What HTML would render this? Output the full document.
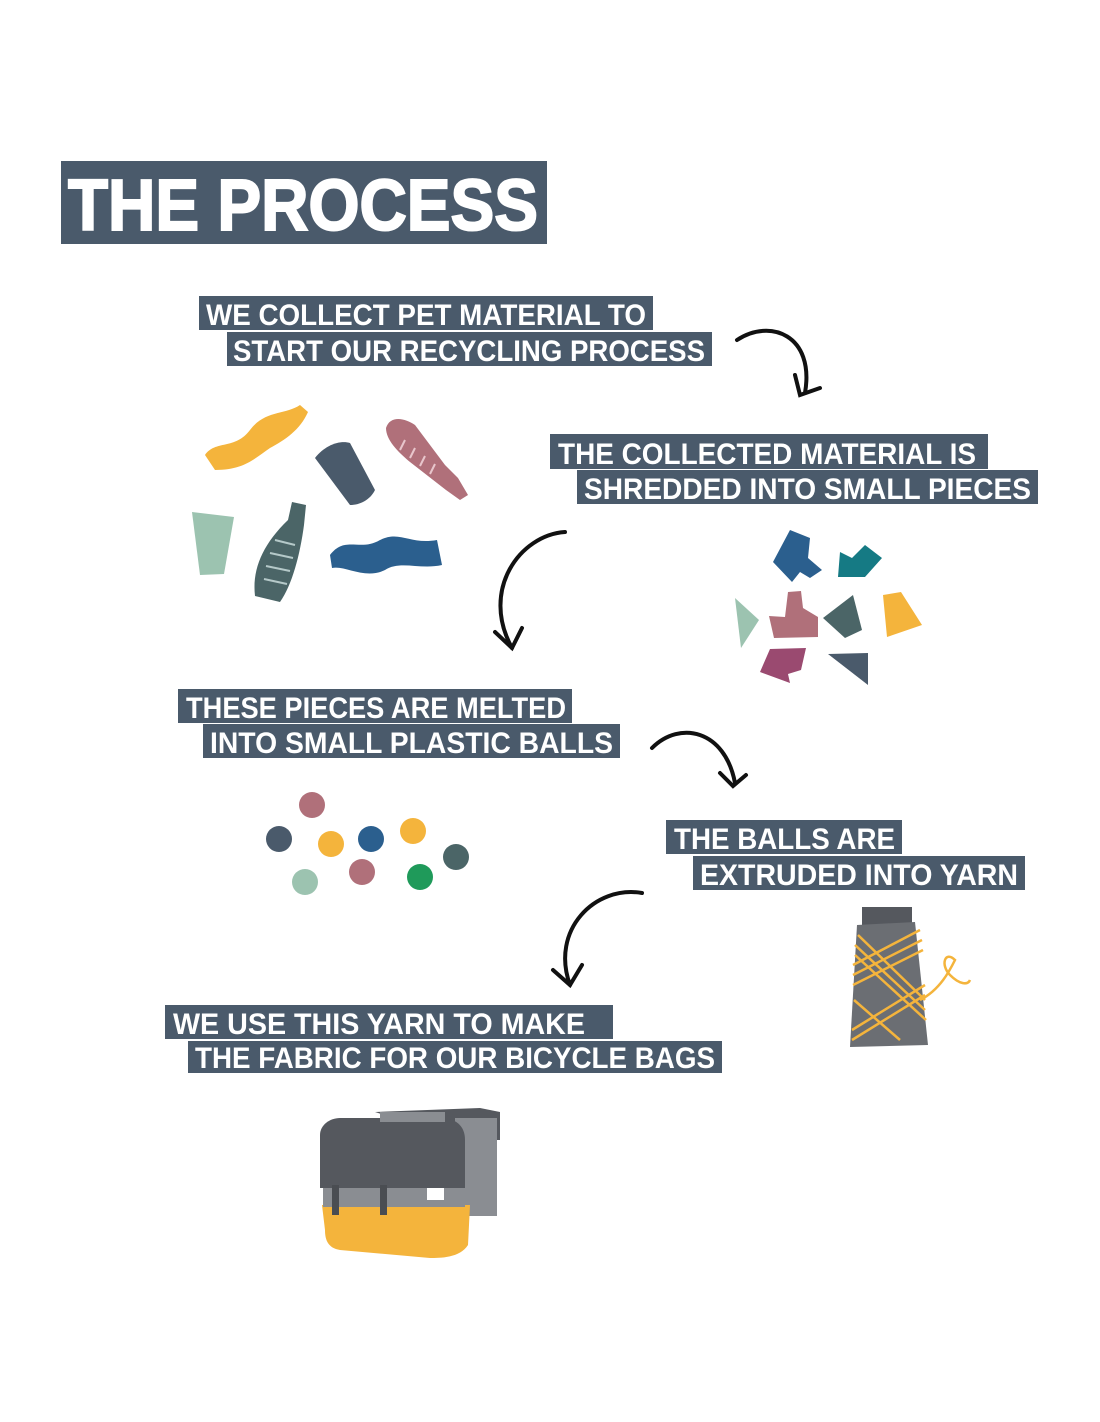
<!DOCTYPE html>
<html><head><meta charset="utf-8"><style>
html,body{margin:0;padding:0;background:#fff;width:1100px;height:1422px;overflow:hidden}
svg{display:block}
.t{font-family:"Liberation Sans",sans-serif;font-weight:bold;fill:#fff}
</style></head><body>
<svg width="1100" height="1422" viewBox="0 0 1100 1422" xmlns="http://www.w3.org/2000/svg">
<g fill="#4a5a6b">
<rect x="61" y="161" width="486" height="83"/>
<rect x="199" y="296" width="454" height="34"/><rect x="227" y="332" width="485" height="34"/>
<rect x="550" y="434" width="438" height="35"/><rect x="577" y="470" width="461" height="34"/>
<rect x="178" y="689" width="394" height="34"/><rect x="203" y="724" width="417" height="34"/>
<rect x="666" y="820" width="236" height="34"/><rect x="693" y="856" width="332" height="34"/>
<rect x="165" y="1005" width="448" height="34"/><rect x="188" y="1041" width="534" height="32"/>
</g>
<text class="t" x="68" y="230" font-size="72" textLength="470" lengthAdjust="spacingAndGlyphs" stroke="#fff" stroke-width="2">THE PROCESS</text>
<g class="t" font-size="30">
<text x="206" y="325" textLength="440" lengthAdjust="spacingAndGlyphs">WE COLLECT PET MATERIAL TO</text>
<text x="233" y="361" textLength="472" lengthAdjust="spacingAndGlyphs">START OUR RECYCLING PROCESS</text>
<text x="558" y="464" textLength="418" lengthAdjust="spacingAndGlyphs">THE COLLECTED MATERIAL IS</text>
<text x="584" y="499" textLength="447" lengthAdjust="spacingAndGlyphs">SHREDDED INTO SMALL PIECES</text>
<text x="186" y="718" textLength="380" lengthAdjust="spacingAndGlyphs">THESE PIECES ARE MELTED</text>
<text x="210" y="753" textLength="403" lengthAdjust="spacingAndGlyphs">INTO SMALL PLASTIC BALLS</text>
<text x="674" y="849" textLength="221" lengthAdjust="spacingAndGlyphs">THE BALLS ARE</text>
<text x="700" y="885" textLength="318" lengthAdjust="spacingAndGlyphs">EXTRUDED INTO YARN</text>
<text x="173" y="1034" textLength="412" lengthAdjust="spacingAndGlyphs">WE USE THIS YARN TO MAKE</text>
<text x="195" y="1068" textLength="520" lengthAdjust="spacingAndGlyphs">THE FABRIC FOR OUR BICYCLE BAGS</text>
</g>
<g fill="none" stroke="#111" stroke-width="4" stroke-linecap="round">
<path d="M737 340 C770 318 815 335 805 393"/><path d="M795 375 L800 395 L820 388"/>
<path d="M565 532 C520 535 480 590 512 648"/><path d="M495 632 L512 648 L522 628"/>
<path d="M652 748 C680 720 725 730 735 783"/><path d="M720 773 L733 786 L746 775"/>
<path d="M642 893 C595 885 550 930 570 985"/><path d="M553 970 L570 985 L582 965"/>
</g>
<!-- bottles -->
<path d="M205 455 C215 440 235 450 250 430 C265 410 285 415 300 405 L308 412 C300 430 285 440 270 448 C255 458 245 470 215 470 Z" fill="#f4b43c"/>
<path d="M315 458 C325 445 340 440 350 443 L375 490 C370 500 360 505 350 505 Z" fill="#4a5a6b"/>
<path d="M386 428 C390 415 405 418 415 425 L445 465 L458 478 L468 495 L460 500 L446 490 L410 462 C398 452 386 440 386 428 Z" fill="#b0707a"/>
<g stroke="#e8c6cc" stroke-width="2"><path d="M405 440 L400 450 M415 448 L410 458 M425 456 L420 466 M435 464 L430 474"/></g>
<path d="M192 512 L234 517 L224 574 L200 575 Z" fill="#9cc3b0"/>
<path d="M292 502 L306 505 L304 525 C300 555 292 585 280 602 L255 596 C252 570 262 545 288 520 Z" fill="#4b6567"/>
<g stroke="#b5c9c9" stroke-width="2"><path d="M275 540 L295 545 M270 553 L293 558 M266 566 L290 571 M264 579 L287 584"/></g>
<path d="M330 555 C345 535 360 552 380 540 C400 530 410 545 437 540 L442 565 C420 570 400 560 385 570 C365 580 345 565 332 568 Z" fill="#2b5f8e"/>
<!-- shreds -->
<polygon points="790,530 810,538 808,558 822,570 810,578 800,572 792,582 773,562" fill="#2b5f8e"/>
<polygon points="840,552 852,558 865,545 882,558 865,577 838,577" fill="#157a84"/>
<polygon points="735,598 759,620 741,648" fill="#9cc3b0"/>
<polygon points="788,592 801,591 803,608 818,617 818,637 774,638 769,616 785,617" fill="#b0707a"/>
<polygon points="823,618 853,595 862,630 845,638" fill="#4b6567"/>
<polygon points="883,595 901,592 922,625 887,637" fill="#f4b43c"/>
<polygon points="770,649 806,648 801,670 788,674 790,683 760,672" fill="#9a4a70"/>
<polygon points="828,654 868,653 868,685" fill="#4a5a6b"/>
<!-- balls -->
<circle cx="312" cy="805" r="13" fill="#b0707a"/>
<circle cx="279" cy="839" r="13" fill="#4a5a6b"/>
<circle cx="331" cy="844" r="13" fill="#f4b43c"/>
<circle cx="371" cy="839" r="13" fill="#2b5f8e"/>
<circle cx="413" cy="831" r="13" fill="#f4b43c"/>
<circle cx="456" cy="857" r="13" fill="#4b6567"/>
<circle cx="305" cy="882" r="13" fill="#9cc3b0"/>
<circle cx="362" cy="872" r="13" fill="#b0707a"/>
<circle cx="420" cy="877" r="13" fill="#1f9a5a"/>
<!-- yarn -->
<rect x="862" y="907" width="50" height="20" fill="#55585e"/>
<polygon points="857,925 915,922 928,1045 850,1047" fill="#6b6e73"/>
<g stroke="#f4b43c" stroke-width="2.5" fill="none">
<path d="M853 965 L920 930 M853 975 L922 940 M853 985 L923 950 M852 1030 L925 985 M852 1040 L925 995"/>
<path d="M855 945 L925 1010 M855 955 L926 1020 M854 1000 L900 1040 M858 935 L925 1000"/>
<path d="M920 1000 C940 990 950 970 955 960 C945 950 940 965 950 975 C960 985 968 985 970 980"/>
</g>
<!-- bag -->
<polygon points="375,1112 480,1108 500,1112 500,1140 460,1140" fill="#55585e"/>
<rect x="455" y="1118" width="42" height="98" fill="#8a8d92"/>
<path d="M322 1205 L470 1205 L468 1245 C460 1258 440 1258 430 1258 L340 1250 C328 1248 325 1240 325 1230 Z" fill="#f4b43c"/>
<rect x="323" y="1180" width="142" height="27" fill="#8a8d92"/>
<path d="M320 1135 C320 1125 330 1118 340 1118 L440 1118 C455 1118 465 1125 465 1140 L465 1188 L320 1188 Z" fill="#55585e"/>
<rect x="380" y="1112" width="65" height="10" fill="#8a8d92"/>
<rect x="332" y="1185" width="7" height="30" fill="#4a4d52"/>
<rect x="380" y="1185" width="7" height="30" fill="#4a4d52"/>
<rect x="427" y="1188" width="17" height="12" fill="#fff"/>
</svg>
</body></html>
